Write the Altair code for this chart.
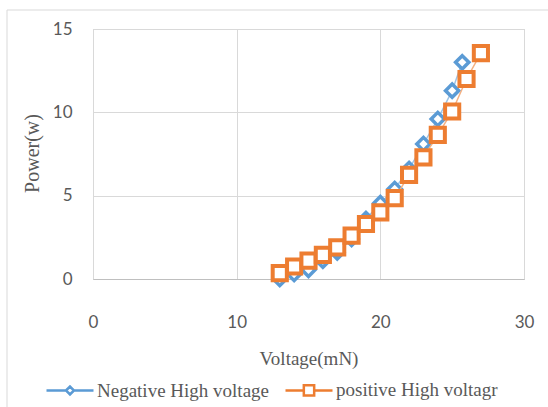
import altair as alt
import pandas as pd

# ---- data ----
series = ["Negative High voltage", "positive High voltagr"]
neg_x = [13, 14, 15, 16, 17, 18, 19, 20, 21, 22, 23, 24, 25, 25.7]
neg_y = [0.0, 0.3, 0.55, 1.1, 1.6, 2.4, 3.6, 4.55, 5.4, 6.6, 8.1, 9.6, 11.3, 13.0]
pos_x = [13, 14, 15, 16, 17, 18, 19, 20, 21, 22, 23, 24, 25, 26, 27]
pos_y = [0.35, 0.75, 1.1, 1.45, 1.9, 2.6, 3.3, 4.0, 4.85, 6.25, 7.3, 8.65, 10.05, 12.0, 13.55]
x_ticks = [0, 10, 20, 30]
y_ticks = [0, 5, 10, 15]

BLUE = "#5B9BD5"
ORANGE = "#ED7D31"
BLUE_L = "#9DC3E6"
ORANGE_L = "#F4B183"
TXT = "#595959"

neg = pd.DataFrame({"x": neg_x, "y": neg_y, "s": series[0]})
pos = pd.DataFrame({"x": pos_x, "y": pos_y, "s": series[1]})
df = pd.concat([neg, pos], ignore_index=True)

X = alt.X(
    "x:Q",
    scale=alt.Scale(domain=[0, 30], nice=False, zero=False),
    axis=alt.Axis(
        values=x_ticks, title="Voltage(mN)", ticks=False, labelPadding=35,
        labelFont="Lato", labelFontSize=17, labelColor=TXT,
        titleFont="Liberation Serif", titleFontSize=19, titleFontWeight="normal",
        titleColor=TXT, titleY=79, titleBaseline="middle",
        domainColor="#bfbfbf", gridColor="#d9d9d9", labelFlush=False,
    ),
)
Y = alt.Y(
    "y:Q",
    scale=alt.Scale(domain=[0, 15], nice=False),
    axis=alt.Axis(
        values=y_ticks, title="Power(w)", ticks=False, domain=False, labelPadding=21,
        labelFont="Lato", labelFontSize=17, labelColor=TXT,
        titleFont="Liberation Serif", titleFontSize=20, titleFontWeight="normal",
        titleColor=TXT, titleX=-61, titleY=124, titleAlign="center",
        titleBaseline="middle", gridColor="#d9d9d9",
    ),
)

neg_line = alt.Chart(neg).mark_line(color=BLUE_L, strokeWidth=1.5).encode(x=X, y=Y)
pos_line = alt.Chart(pos).mark_line(color=ORANGE_L, strokeWidth=1.5).encode(x=X, y=Y)
neg_pts = alt.Chart(neg).mark_point(
    shape="diamond", filled=True, fill="white", stroke=BLUE, strokeWidth=3.5,
    size=175, opacity=1,
).encode(x=X, y=Y)
pos_pts = alt.Chart(pos).mark_point(
    shape="square", filled=True, fill="white", stroke=ORANGE, strokeWidth=4,
    size=200, opacity=1,
).encode(x=X, y=Y)

sq_h = 0.22
di_h = 0.17
square_path = (
    f"M-1,0L-{sq_h},0M-{sq_h},-{sq_h}L{sq_h},-{sq_h}L{sq_h},{sq_h}L-{sq_h},{sq_h}Z"
    f"M{sq_h},0L1,0"
)
diamond_path = (
    f"M-1,0L-{di_h},0M-{di_h},0L0,-{di_h}L{di_h},0L0,{di_h}Z"
    f"M{di_h},0L1,0"
)

legend = alt.Legend(
    title=None, orient="none", direction="horizontal", legendX=-48, legendY=336,
    symbolSize=47 * 47, symbolStrokeWidth=2.5, symbolFillColor="white",
    labelFont="Liberation Serif", labelFontSize=19, labelColor=TXT,
    labelOffset=2, labelLimit=0, columnPadding=10,
)

legend_layer = alt.Chart(df).transform_filter("false").mark_point(
    filled=False, opacity=1
).encode(
    x=X, y=Y,
    shape=alt.Shape("s:N", scale=alt.Scale(domain=series, range=[diamond_path, square_path]), legend=legend),
    stroke=alt.Stroke("s:N", scale=alt.Scale(domain=series, range=[BLUE, ORANGE]), legend=legend),
)

frame = alt.Chart(pd.DataFrame({"a": [0]})).mark_rect(
    fill=None, stroke="#d9d9d9", strokeWidth=1
).encode(
    x=alt.value(-86), x2=alt.value(470), y=alt.value(-19), y2=alt.value(400)
)

chart = alt.layer(
    frame, neg_line, neg_pts, pos_line, pos_pts, legend_layer
).properties(
    width=431, height=250,
    autosize=alt.AutoSizeParams(type="none"),
    padding={"left": 93, "top": 29, "right": 24, "bottom": 128},
    background="white",
).configure_view(stroke="#c8c8c8")

chart.save("out.html", embed_options={"renderer": "svg", "actions": False})
